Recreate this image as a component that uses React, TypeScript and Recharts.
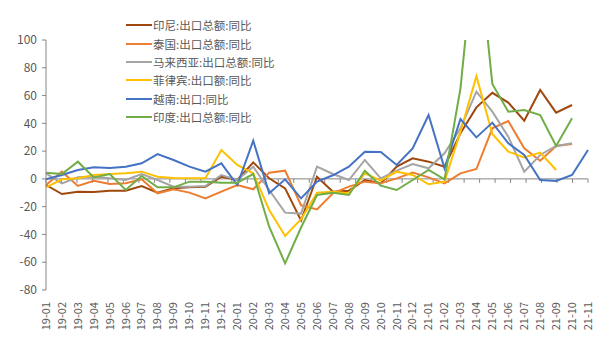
import React from 'react';
import { LineChart, Line, XAxis, YAxis, ReferenceLine, Legend } from 'recharts';

const months = [
    '19-01', '19-02', '19-03', '19-04', '19-05', '19-06', '19-07', '19-08', '19-09', '19-10', '19-11', '19-12',
    '20-01', '20-02', '20-03', '20-04', '20-05', '20-06', '20-07', '20-08', '20-09', '20-10', '20-11', '20-12',
    '21-01', '21-02', '21-03', '21-04', '21-05', '21-06', '21-07', '21-08', '21-09', '21-10', '21-11'
];

const indonesia = [-4.4, -10.9, -9.2, -9.4, -8.5, -8.5, -5.1, -9.9, -6.8, -6.1, -5.6, 1.6, -0.8, 11.9, 0.4, -6.8, -30, 1.6, -9.2, -8.5, -0.8, -3.2, 8.8, 14.8, 12.4, 8.8, 32.8, 51.5, 62, 54.9, 41.9, 64, 47.7, 53.2, null];
const thailand = [-4.4, 5.2, -5.1, -1.3, -3.7, -3.2, -0.3, -10.4, -7.5, -9.9, -14, -9.2, -4.4, -7.5, 4.5, 5.9, -19, -22, -10.4, -5.6, -2, -3.2, 0.4, 4.5, 1.1, -3.2, 4, 7.1, 36.4, 41.7, 22, 13.1, 23.7, 25.1, null];
const malaysia = [4, -3.2, 1.1, 1.6, 0.4, -0.8, 3.5, -0.8, -5.6, -5.6, -5.1, 2.8, -0.8, 8.8, -8, -24.3, -25, 8.8, 3.5, -0.8, 13.6, 0.4, 5.9, 10.7, 7.6, 18.4, 36.4, 62.8, 48.4, 30.4, 5.2, 17.2, 23.7, 25.6, null];
const philippines = [-6.1, -0.3, 0.4, 2.8, 3.5, 4, 5.2, 1.6, 0.6, 0.4, 0.4, 20.8, 10, 4, -22.4, -41.1, -29, -9.9, -9.2, -10.4, 4, -1.3, 5.2, 2.8, -3.9, -2, 34, 74, 32.3, 19.6, 15.5, 18.9, 6.4, null, null];
const vietnam = [-0.3, 2.8, 6.4, 8.3, 7.8, 8.8, 11.2, 17.9, 13.6, 8.8, 5.2, 11.2, -4.4, 27.5, -10.4, -0.3, -14, -2, 2.6, 8.8, 19.6, 19.4, 10, 22, 46, 7.6, 43.1, 29.9, 40.5, 25.6, 17.2, -0.8, -1.5, 2.8, 20.8];
const india = [4.5, 3.5, 12.4, 1.1, 3.5, -8, 2.1, -6.1, -6.1, -2, -2, -2.7, -2.7, 3.5, -34.4, -60.8, -35, -11.6, -9.9, -11.6, 5.9, -4.9, -8, -0.8, 6.4, -0.3, 65.2, 180, 68.3, 48.4, 49.6, 46, 23.7, 43.6, null];

const yTicks = [-80, -60, -40, -20, 0, 20, 40, 60, 80, 100];

const series = [
    { key: 'indonesia', name: '印尼:出口总额:同比', color: '#9E480E' },
    { key: 'thailand', name: '泰国:出口总额:同比', color: '#ED7D31' },
    { key: 'malaysia', name: '马来西亚:出口总额:同比', color: '#A5A5A5' },
    { key: 'philippines', name: '菲律宾:出口额:同比', color: '#FFC000' },
    { key: 'vietnam', name: '越南:出口:同比', color: '#4472C4' },
    { key: 'india', name: '印度:出口总额:同比', color: '#70AD47' },
];

const data = months.map((month, i) => ({
    month,
    indonesia: indonesia[i],
    thailand: thailand[i],
    malaysia: malaysia[i],
    philippines: philippines[i],
    vietnam: vietnam[i],
    india: india[i],
}));

const FONT = "'Noto Sans CJK SC', 'Liberation Sans', sans-serif";
const AXIS = '#868686';
const TEXT = '#595959';

// rotated month labels at the bottom
const MonthTick = ({ x, y, payload }: any) => (
    <text
        x={x}
        y={y + 4}
        dy="0.35em"
        transform={`rotate(-90, ${x}, ${y + 4})`}
        textAnchor="end"
        fill={TEXT}
        fontSize={11}
        fontFamily={FONT}
    >
        {payload.value}
    </text>
);

// tick marks along the zero line, at category boundaries
const ZeroTicks = ({ viewBox }: any) => {
    if (!viewBox) return null;
    const { x, y, width } = viewBox;
    const step = width / months.length;
    return (
        <g>
            {Array.from({ length: months.length + 1 }, (_, k) => (
                <line key={k} x1={x + k * step} x2={x + k * step} y1={y} y2={y + 4} stroke={AXIS} strokeWidth={1} />
            ))}
        </g>
    );
};

const renderLegend = () => (
    <div style={{ fontFamily: FONT, fontSize: 11.5, color: TEXT }}>
        {series.map(s => (
            <div key={s.key} style={{ display: 'flex', alignItems: 'center', height: 18.4 }}>
                <span style={{ display: 'inline-block', width: 26, height: 2, background: s.color, marginRight: 1 }} />
                <span>{s.name}</span>
            </div>
        ))}
    </div>
);

const App = () => {
    return (
        <div style={{ position: 'absolute', top: 0, left: 0, width: 603, height: 337, background: '#fff' }}>
            <LineChart width={603} height={337} data={data} margin={{ top: 40, right: 15, left: 0, bottom: 0 }}>
                <XAxis
                    dataKey="month"
                    height={47}
                    axisLine={false}
                    tickLine={false}
                    interval={0}
                    tick={<MonthTick />}
                />
                <YAxis
                    width={46}
                    domain={[-80, 100]}
                    ticks={yTicks}
                    allowDataOverflow
                    tickSize={4}
                    tickMargin={5}
                    axisLine={{ stroke: AXIS }}
                    tickLine={{ stroke: AXIS }}
                    tick={{ fill: TEXT, fontSize: 12, fontFamily: FONT }}
                />
                <ReferenceLine y={0} stroke={AXIS} strokeWidth={1} label={<ZeroTicks />} />
                {series.map(s => (
                    <Line
                        key={s.key}
                        dataKey={s.key}
                        name={s.name}
                        stroke={s.color}
                        strokeWidth={2}
                        dot={false}
                        type="linear"
                        isAnimationActive={false}
                    />
                ))}
                <Legend
                    layout="vertical"
                    align="center"
                    verticalAlign="middle"
                    content={renderLegend}
                    wrapperStyle={{ position: 'absolute', top: 16, left: 126, width: 'auto', height: 'auto' }}
                />
            </LineChart>
        </div>
    );
};

export default App;
